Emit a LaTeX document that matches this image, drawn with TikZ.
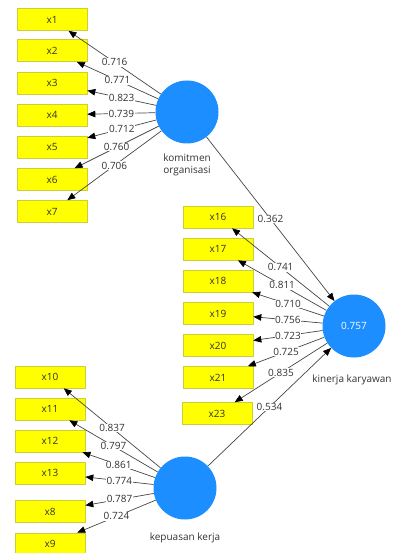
\documentclass[tikz,border=0pt]{standalone}
\usepackage{fontspec}
\setmainfont{Open Sans}
\usetikzlibrary{arrows.meta}

\definecolor{plsblue}{RGB}{28,142,255}
\definecolor{plsyellow}{RGB}{255,255,0}
\definecolor{plsrim}{RGB}{205,205,60}
\definecolor{plsline}{RGB}{70,70,70}
\definecolor{plstext}{RGB}{50,50,50}

\begin{document}
\begin{tikzpicture}
    [x=1pt,y=-1pt,font=\fontsize{10}{11.5}\selectfont,
     ind/.style={draw=plsrim, fill=plsyellow, line width=0.6pt, minimum width=70pt, minimum height=22pt, inner sep=0pt, text=plstext},
     lat/.style={circle, fill=plsblue, minimum size=63pt, inner sep=0pt, text=white},
     lvname/.style={align=center, text=plstext, inner sep=0pt},
     load/.style={draw=plsline, line width=0.7pt, -{Triangle[length=8pt,width=6.5pt,color=black]}},
     wt/.style={fill=white, inner sep=0.6pt, text=plstext}]
  \useasboundingbox (0,0) rectangle (393,553);

  % latent variables
  \node[lat] (km) at (187,112) {};
  \node[lvname] (kml) at (187,165) {komitmen\\organisasi};
  \node[lat] (kk) at (354,326) {0.757};
  \node[lvname] (kkl) at (352,380) {kinerja karyawan};
  \node[lat] (kp) at (185,488) {};
  \node[lvname] (kpl) at (185,538) {kepuasan kerja};

  % indicators
  \foreach \n/\y in {x1/19.5, x2/50.5, x3/83, x4/115, x5/147, x6/179.5, x7/211.5}
    \node[ind] (\n) at (52,\y) {\n};
  \foreach \n/\y in {x16/217, x17/249, x18/281, x19/313.5, x20/345.5, x21/377.5}
    \node[ind] (\n) at (218,\y) {\n};
  \node[ind] (x23) at (217,413.5) {x23};
  \foreach \n/\y in {x10/377, x11/409, x12/441, x13/473, x8/511.5, x9/544}
    \node[ind] (\n) at (50,\y) {\n};

  % outer loadings
  \foreach \from/\to/\w in {km/x1/0.716, km/x2/0.771, km/x3/0.823, km/x4/0.739, km/x5/0.712, km/x6/0.760, km/x7/0.706,
                            kk/x16/0.741, kk/x17/0.811, kk/x18/0.710, kk/x19/0.756, kk/x20/0.723, kk/x21/0.725, kk/x23/0.835,
                            kp/x10/0.837, kp/x11/0.797, kp/x12/0.861, kp/x13/0.774, kp/x8/0.787, kp/x9/0.724}
    \draw (\from) edge[load] node[wt]{\w} (\to);

  % path coefficients
  \draw (km) edge[load] node[wt]{0.362} (kk);
  \draw (kp) edge[load] node[wt]{0.534} (kk);
\end{tikzpicture}
\end{document}
